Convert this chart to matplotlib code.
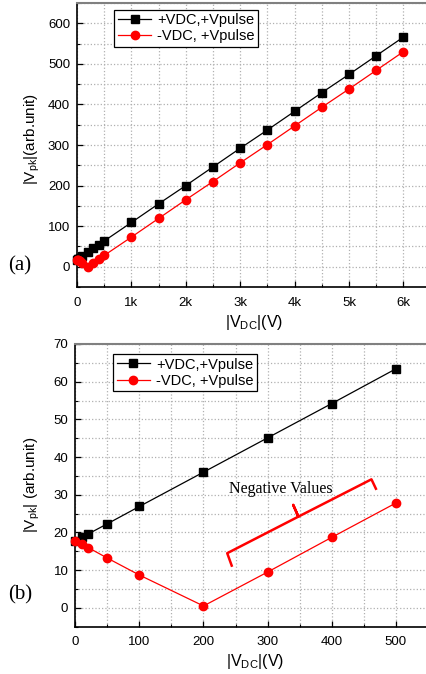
import matplotlib
matplotlib.use("Agg")
import matplotlib.pyplot as plt
from matplotlib.ticker import MultipleLocator, FuncFormatter

# ---- data ----
vdc_a = [0, 10, 20, 50, 100, 200, 300, 400, 500, 1000, 1500, 2000, 2500, 3000,
         3500, 4000, 4500, 5000, 5500, 6000]
pos_a = [17.7, 18.7, 19.6, 22.3, 26.9, 36.0, 45.1, 54.2, 63.4, 109, 155, 200, 246,
         292, 337, 383, 429, 474, 520, 566]
neg_a = [17.7, 16.9, 16.0, 13.2, 8.7, 0.5, 9.5, 18.7, 27.8, 73, 119, 165, 210,
         256, 301, 347, 393, 438, 484, 530]

vdc_b = [0, 10, 20, 50, 100, 200, 300, 400, 500]
pos_b = [17.7, 18.7, 19.6, 22.3, 26.9, 36.0, 45.1, 54.2, 63.4]
neg_b = [17.7, 16.9, 16.0, 13.2, 8.7, 0.5, 9.5, 18.7, 27.8]

series_labels = ["+VDC,+Vpulse", "-VDC, +Vpulse"]
annot_text = "Negative Values"
# bracket path (data coords of panel b)
brace_x = [244, 237, 348, 340, 348, 462, 469]
brace_y = [11.2, 14.5, 24.2, 27.3, 24.2, 34.1, 31.6]

W, H = 427, 674
fig = plt.figure(figsize=(W / 100, H / 100), dpi=100)
plt.rcParams['font.family'] = ['Liberation Sans', 'DejaVu Sans']


def style(ax):
    ax.tick_params(which='both', direction='in', labelsize=9.5, colors='black')
    ax.tick_params(which='major', length=4, width=0.9, pad=5)
    ax.tick_params(which='minor', length=2, width=0.8)
    ax.tick_params(axis='x', pad=7)
    ax.grid(True, which='major', color='#b0b0b0', linestyle=':', linewidth=0.9)
    ax.grid(True, which='minor', color='#b0b0b0', linestyle=':', linewidth=0.9)
    ax.set_axisbelow(True)
    ax.spines['left'].set_linewidth(1.2)
    ax.spines['bottom'].set_linewidth(1.2)
    ax.spines['top'].set_color('#808080')
    ax.spines['top'].set_linewidth(1.5)
    ax.spines['right'].set_visible(False)


def plot_series(ax, x, p, n):
    ax.plot(x, p, color='black', marker='s', markersize=5.5, linewidth=0.9,
            label=series_labels[0], clip_on=False, zorder=3)
    ax.plot(x, n, color='red', marker='o', markersize=6, linewidth=0.9,
            label=series_labels[1], clip_on=False, zorder=4)


# ---- panel (a) ----
ax1 = fig.add_axes([77 / W, 1 - 287 / H, 6.5 * 54.4 / W, 284 / H])
plot_series(ax1, vdc_a, pos_a, neg_a)
ax1.set_xlim(0, 6500)
ax1.set_ylim(-50, 650)
ax1.xaxis.set_major_locator(MultipleLocator(1000))
ax1.xaxis.set_minor_locator(MultipleLocator(500))
ax1.yaxis.set_major_locator(MultipleLocator(100))
ax1.yaxis.set_minor_locator(MultipleLocator(50))
ax1.xaxis.set_major_formatter(FuncFormatter(lambda v, p: "0" if v == 0 else f"{int(v/1000)}k"))
style(ax1)
ax1.set_ylabel(r"$\mathregular{|V_{pk}|}$(arb.unit)", fontsize=11)
ax1.set_xlabel(r"$\mathregular{|V_{DC}|}$(V)", fontsize=11.5)
ax1.yaxis.set_label_coords(-0.099, 0.52)
ax1.xaxis.set_label_coords(0.5, -0.093)
leg1 = ax1.legend(loc='upper left', bbox_to_anchor=(0.105, 0.977), fontsize=10.5,
                  frameon=True, fancybox=False, edgecolor='black', framealpha=1,
                  handlelength=2.3, handletextpad=0.4, borderpad=0.25,
                  labelspacing=0.15, borderaxespad=0)
leg1.get_frame().set_linewidth(0.9)
fig.text(20 / W, 1 - 266 / H, "(a)", fontsize=15, family='Liberation Serif',
         ha='center', va='center')

# ---- panel (b) ----
ax2 = fig.add_axes([75.3 / W, 1 - 626.7 / H, 560 * 0.641 / W, 282.7 / H])
plot_series(ax2, vdc_b, pos_b, neg_b)
ax2.set_xlim(0, 560)
ax2.set_ylim(-5, 70)
ax2.xaxis.set_major_locator(MultipleLocator(100))
ax2.xaxis.set_minor_locator(MultipleLocator(50))
ax2.yaxis.set_major_locator(MultipleLocator(10))
ax2.yaxis.set_minor_locator(MultipleLocator(5))
style(ax2)
ax2.set_ylabel(r"$\mathregular{|V_{pk}|}$ (arb.unit)", fontsize=11)
ax2.set_xlabel(r"$\mathregular{|V_{DC}|}$(V)", fontsize=11.5)
ax2.yaxis.set_label_coords(-0.093, 0.5)
ax2.xaxis.set_label_coords(0.5, -0.09)
leg2 = ax2.legend(loc='upper left', bbox_to_anchor=(0.105, 0.965), fontsize=10.5,
                  frameon=True, fancybox=False, edgecolor='black', framealpha=1,
                  handlelength=2.3, handletextpad=0.4, borderpad=0.25,
                  labelspacing=0.15, borderaxespad=0)
leg2.get_frame().set_linewidth(0.9)
ax2.text(240, 31.5, annot_text, fontsize=11.5, family='Liberation Serif',
         ha='left', va='center', zorder=5)
ax2.plot(brace_x, brace_y, color='red', linewidth=1.8, solid_joinstyle='round',
         zorder=5)
fig.text(20 / W, 1 - 595 / H, "(b)", fontsize=15, family='Liberation Serif',
         ha='center', va='center')

fig.savefig("out.png", dpi=100)
